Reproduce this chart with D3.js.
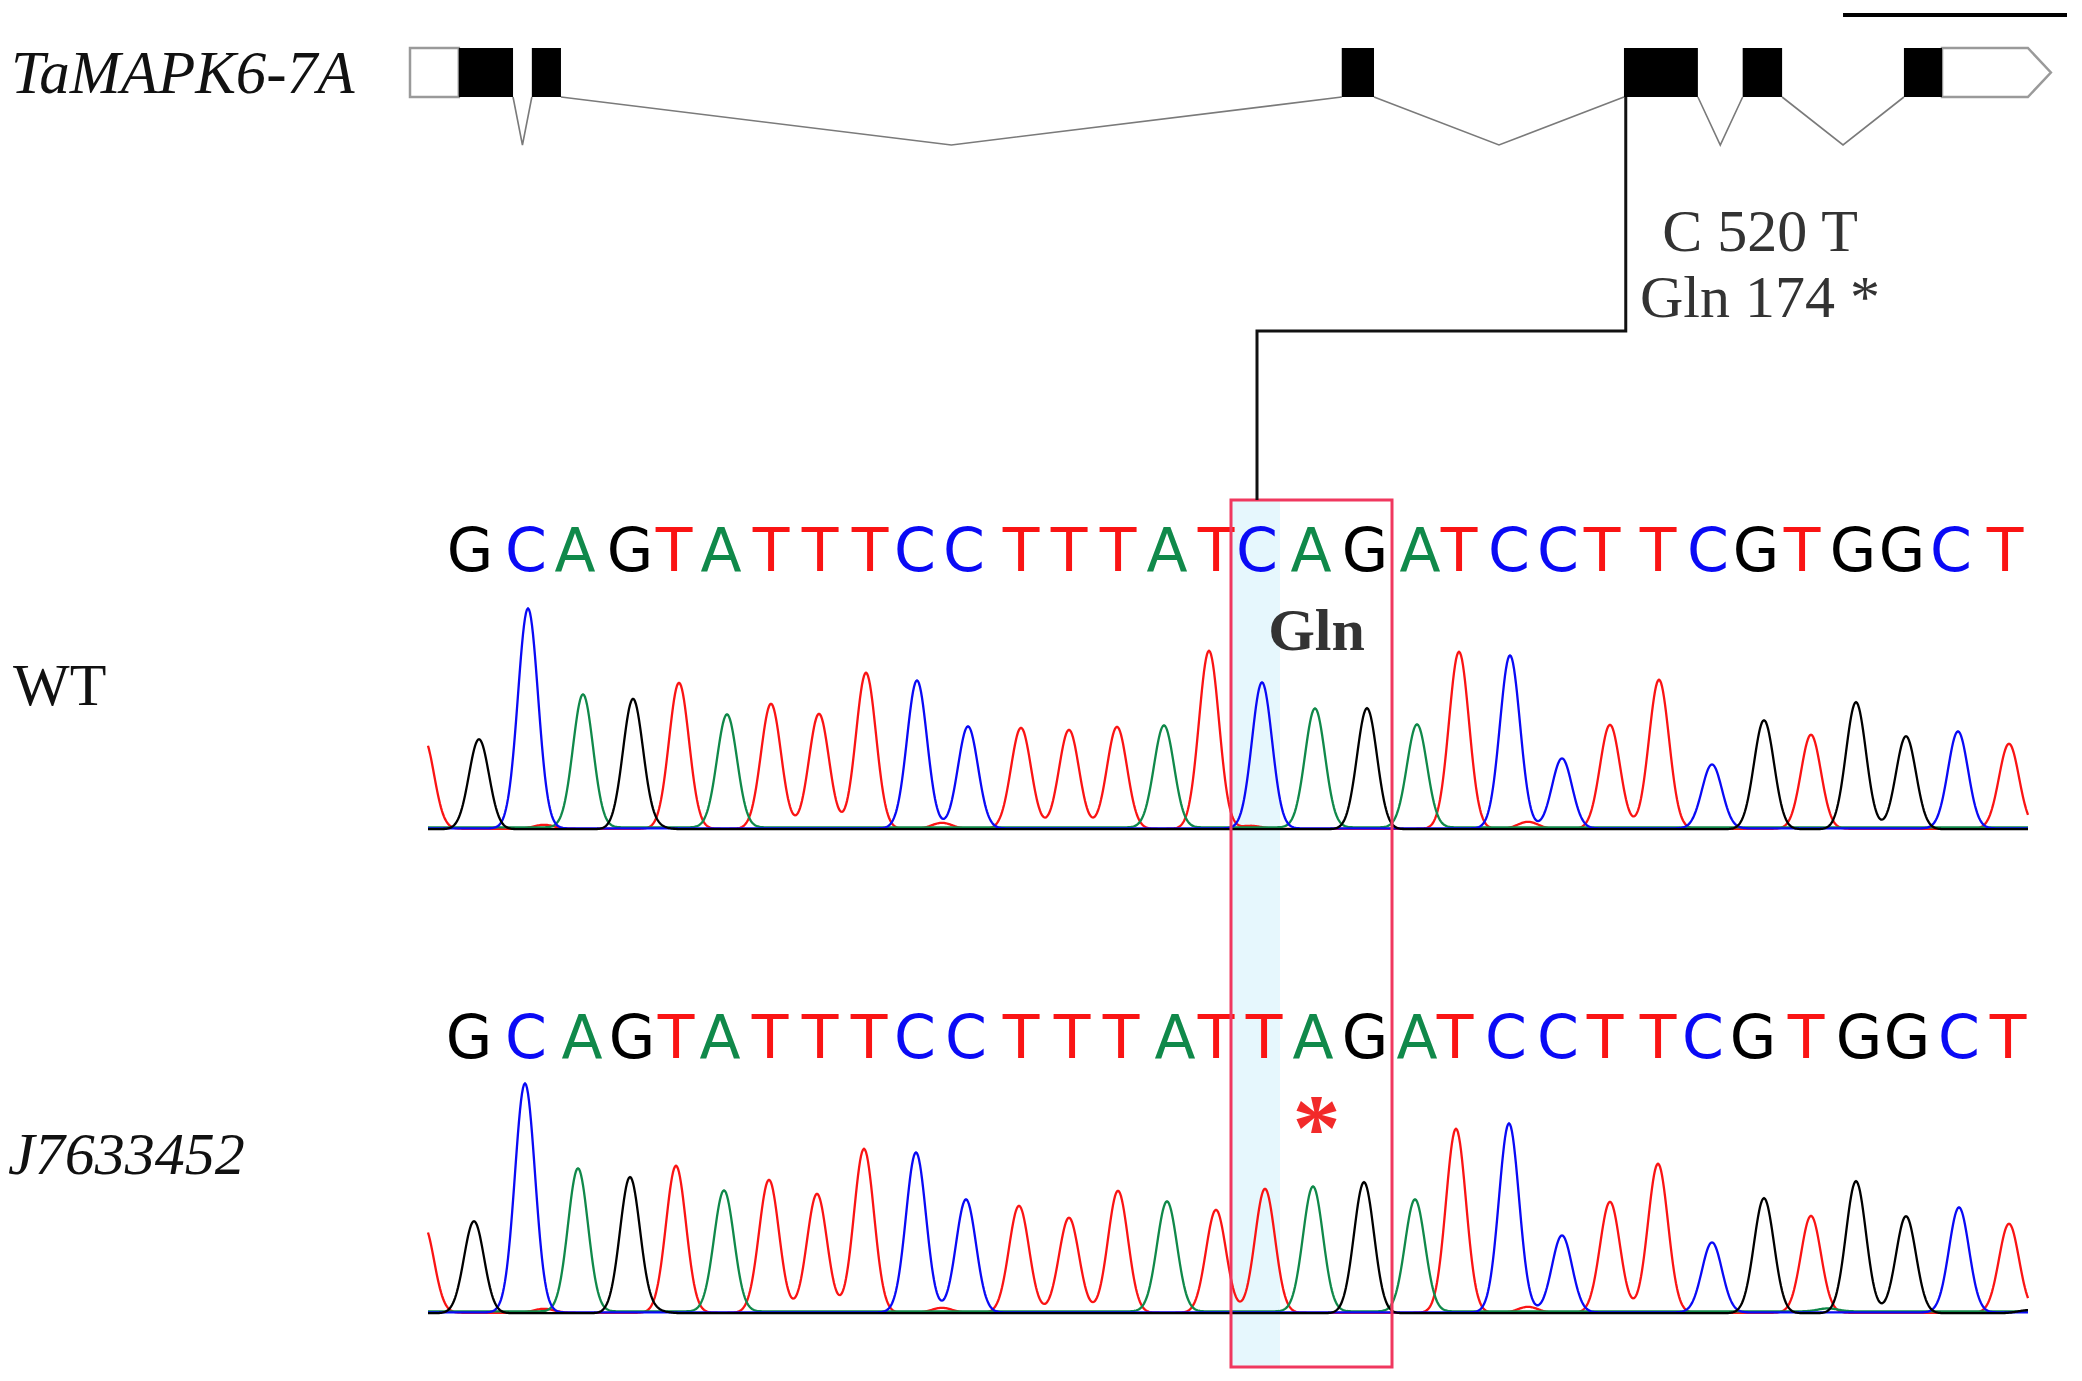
<!DOCTYPE html>
<html>
<head>
<meta charset="utf-8">
<script src="https://cdn.jsdelivr.net/npm/d3@7"></script>
<style>
  body { margin: 0; background: #fff; }
  svg { display: block; }
</style>
</head>
<body>
<div id="fig"></div>
<script>
//figure size
var width = 2082;
var height = 1381;

//gene model (bp from transcript start)
var geneName = 'TaMAPK6-7A';
var utr5 = [0, 109];
var exons = [[109, 230], [272, 337], [2080, 2152], [2710, 2875], [2975, 3063], [3335, 3420]];
var utr3 = [3420, 3663];
var mutationBp = 2714;
var scaleBarBp = [3199, 3699];
var mutationText = ['C 520 T', 'Gln 174 *'];

//sequences
var seqWT = 'GCAGTATTTCCTTTATCAGATCCTTCGTGGCT';
var seqMut = 'GCAGTATTTCCTTTATTAGATCCTTCGTGGCT';

//base call scan positions
var callsWT = [42, 98, 147, 202, 246, 293, 343, 392, 442, 487, 536, 593, 641, 690, 739, 788,
  829, 883, 937, 992, 1031, 1081, 1130, 1174, 1230, 1280, 1328, 1374, 1425, 1474, 1523, 1577];
var callsMut = [41, 98, 154, 204, 248, 292, 342, 392, 441, 487, 538, 593, 644, 693, 747, 788,
  836, 885, 937, 989, 1027, 1078, 1130, 1177, 1230, 1275, 1325, 1378, 1431, 1479, 1531, 1580];

//peak centres (scan) and peak heights (signal), one per base plus the leading partial peak
var peakPosWT = [-4, 51, 100, 155, 205, 251, 299, 343, 391, 438, 489, 540, 593, 641, 689, 736, 781,
  834, 887, 939, 989, 1031, 1082, 1134, 1182, 1231, 1284, 1336, 1383, 1428, 1478, 1530, 1581];
var peakHtWT = [90, 90, 220, 133, 130, 146, 113, 125, 115, 156, 148, 102, 101, 99, 102, 102, 178,
  146, 119, 121, 103, 177, 173, 70, 104, 149, 64, 109, 94, 127, 93, 97, 85];
var peakPosMut = [-4, 46, 97, 150, 202, 248, 296, 341, 389, 436, 488, 538, 591, 641, 690, 739, 788,
  837, 885, 936, 987, 1028, 1081, 1134, 1182, 1230, 1284, 1336, 1383, 1428, 1478, 1531, 1581];
var peakHtMut = [87, 92, 229, 143, 136, 147, 121, 133, 119, 164, 160, 113, 107, 95, 122, 110, 103,
  124, 125, 131, 112, 184, 189, 77, 111, 149, 70, 115, 97, 132, 97, 105, 89];

//small baseline bumps [base, scan, signal]
var noiseWT = [['T', 116, 4], ['G', 226, 3], ['T', 514, 6], ['T', 823, 3], ['T', 1100, 7], ['A', 1660, 3]];
var noiseMut = [['T', 116, 4], ['G', 226, 3], ['T', 514, 5], ['T', 1100, 6], ['A', 1400, 3], ['G', 1600, 3]];

//codon of interest (base index range)
var codon = [16, 18];

var baseColor = { G: '#000000', C: '#0a0af5', A: '#10894a', T: '#fa1414' };
var drawOrder = ['T', 'A', 'C', 'G'];
//tiny per-dye baseline offsets, gives the thick mixed baseline
var baseShift = { T: 0.8, A: -0.6, C: 0.4, G: 1.2 };

var svg = d3.select('#fig').append('svg')
  .attr('width', width)
  .attr('height', height)
  .style('font-family', 'Liberation Serif, Times New Roman, serif');

//Gene structure
var geneTop = 48;
var geneBot = 97;
var geneMid = (geneTop + geneBot) / 2;
var dip = 48;
var arrowW = 23;

var xGene = d3.scaleLinear().domain([0, 3699]).range([410, 2067]);

var gGene = svg.append('g').attr('class', 'gene');

//introns
var blocks = [[utr5[0], exons[0][1]]].concat(exons.slice(1));
for (var i = 0; i < blocks.length - 1; i++) {
  var a = blocks[i][1];
  var b = blocks[i + 1][0];
  gGene.append('polyline')
    .attr('points', [
      [xGene(a), geneBot],
      [(xGene(a) + xGene(b)) / 2, geneBot + dip],
      [xGene(b), geneBot]
    ].join(' '))
    .attr('fill', 'none')
    .attr('stroke', '#7a7a7a')
    .attr('stroke-width', 1.6);
}

//5' UTR
gGene.append('rect')
  .attr('x', xGene(utr5[0]))
  .attr('y', geneTop)
  .attr('width', xGene(utr5[1]) - xGene(utr5[0]))
  .attr('height', geneBot - geneTop)
  .attr('fill', '#fff')
  .attr('stroke', '#9a9a9a')
  .attr('stroke-width', 2.5);

//3' UTR with arrow
var u0 = xGene(utr3[0]);
var u1 = xGene(utr3[1]);
gGene.append('polygon')
  .attr('points', [[u0, geneTop], [u1 - arrowW, geneTop], [u1, geneMid], [u1 - arrowW, geneBot], [u0, geneBot]].join(' '))
  .attr('fill', '#fff')
  .attr('stroke', '#9a9a9a')
  .attr('stroke-width', 2.5);

//coding exons
gGene.selectAll('rect.exon')
  .data(exons)
  .enter()
  .append('rect')
  .attr('class', 'exon')
  .attr('x', function(d) { return xGene(d[0]); })
  .attr('y', geneTop)
  .attr('width', function(d) { return xGene(d[1]) - xGene(d[0]); })
  .attr('height', geneBot - geneTop)
  .attr('fill', '#000');

//scale bar
svg.append('line')
  .attr('x1', xGene(scaleBarBp[0]))
  .attr('x2', xGene(scaleBarBp[1]))
  .attr('y1', 15)
  .attr('y2', 15)
  .attr('stroke', '#000')
  .attr('stroke-width', 4);

//gene name
svg.append('text')
  .attr('x', 11)
  .attr('y', 93)
  .attr('font-size', 61)
  .attr('font-style', 'italic')
  .attr('fill', '#111')
  .text(geneName);

//Chromatograms
var xScan = d3.scaleLinear().domain([0, 1600]).range([428, 2028]);
var sigma = 10;

var panels = [
  { label: 'WT', italic: false, seq: seqWT, calls: callsWT, pos: peakPosWT, ht: peakHtWT, noise: noiseWT,
    base: 828, letterY: 571, labelY: 705 },
  { label: 'J7633452', italic: true, seq: seqMut, calls: callsMut, pos: peakPosMut, ht: peakHtMut, noise: noiseMut,
    base: 1312, letterY: 1058, labelY: 1174 }
];

var boxTop = 500;
var boxBot = 1367;
var boxLeft = xScan(callsWT[codon[0]]) - 26;
var boxRight = xScan(callsWT[codon[1]]) + 27;
var bandRight = (xScan(callsWT[codon[0]]) + xScan(callsWT[codon[0] + 1])) / 2 - 4;

//highlighted mutated base
svg.append('rect')
  .attr('x', boxLeft)
  .attr('y', boxTop)
  .attr('width', bandRight - boxLeft)
  .attr('height', boxBot - boxTop)
  .attr('fill', '#e6f7fd');

var scans = d3.range(0, 1601, 1);

panels.forEach(function(p) {
  var yScale = d3.scaleLinear().domain([0, 250]).range([p.base, p.base - 250]);
  var seqFull = 'T' + p.seq; //leading partial peak is a T

  drawOrder.forEach(function(b) {
    var pk = [];
    for (var k = 0; k < seqFull.length; k++) {
      if (seqFull[k] === b) pk.push([p.pos[k], p.ht[k]]);
    }
    p.noise.forEach(function(n) {
      if (n[0] === b) pk.push([n[1], n[2]]);
    });
    var pts = scans.map(function(s) {
      var v = 0;
      pk.forEach(function(q) {
        v += q[1] * Math.exp(-(s - q[0]) * (s - q[0]) / (2 * sigma * sigma));
      });
      return [s, v];
    });
    var line = d3.line()
      .x(function(d) { return xScan(d[0]); })
      .y(function(d) { return yScale(d[1]) + baseShift[b]; });
    svg.append('path')
      .datum(pts)
      .attr('d', line)
      .attr('fill', 'none')
      .attr('stroke', baseColor[b])
      .attr('stroke-width', 2.3);
  });

  //base letters
  svg.append('g')
    .selectAll('text')
    .data(p.seq.split(''))
    .enter()
    .append('text')
    .attr('x', function(d, i) { return xScan(p.calls[i]); })
    .attr('y', p.letterY)
    .attr('text-anchor', 'middle')
    .attr('font-family', 'DejaVu Sans, Verdana, sans-serif')
    .attr('font-size', 60)
    .attr('fill', function(d) { return baseColor[d]; })
    .text(function(d) { return d; });

  //sample label
  svg.append('text')
    .attr('x', p.italic ? 8 : 13)
    .attr('y', p.labelY)
    .attr('font-size', 60)
    .attr('font-style', p.italic ? 'italic' : 'normal')
    .attr('fill', '#111')
    .text(p.label);
});

//codon box
svg.append('rect')
  .attr('x', boxLeft)
  .attr('y', boxTop)
  .attr('width', boxRight - boxLeft)
  .attr('height', boxBot - boxTop)
  .attr('fill', 'none')
  .attr('stroke', '#f0385f')
  .attr('stroke-width', 3);

var codonMid = (boxLeft + boxRight) / 2 + 5;

//amino acid in WT
svg.append('text')
  .attr('x', codonMid)
  .attr('y', 650)
  .attr('text-anchor', 'middle')
  .attr('font-size', 60)
  .attr('font-weight', 'bold')
  .attr('fill', '#333')
  .text('Gln');

//stop codon mark in mutant
svg.append('text')
  .attr('x', codonMid)
  .attr('y', 1160)
  .attr('text-anchor', 'middle')
  .attr('font-size', 96)
  .attr('font-weight', 'bold')
  .attr('fill', '#f22a2a')
  .text('*');

//connector from gene model to the mutated base
var xm = xGene(mutationBp);
var xc = xScan(callsWT[codon[0]]);
svg.append('path')
  .attr('d', 'M' + xm + ',' + geneBot + 'V331H' + xc + 'V' + boxTop)
  .attr('fill', 'none')
  .attr('stroke', '#111')
  .attr('stroke-width', 3);

//mutation annotation
svg.selectAll('text.mut')
  .data(mutationText)
  .enter()
  .append('text')
  .attr('class', 'mut')
  .attr('x', 1760)
  .attr('y', function(d, i) { return 251 + i * 66; })
  .attr('text-anchor', 'middle')
  .attr('font-size', 60)
  .attr('fill', '#333')
  .text(function(d) { return d; });
</script>
</body>
</html>
